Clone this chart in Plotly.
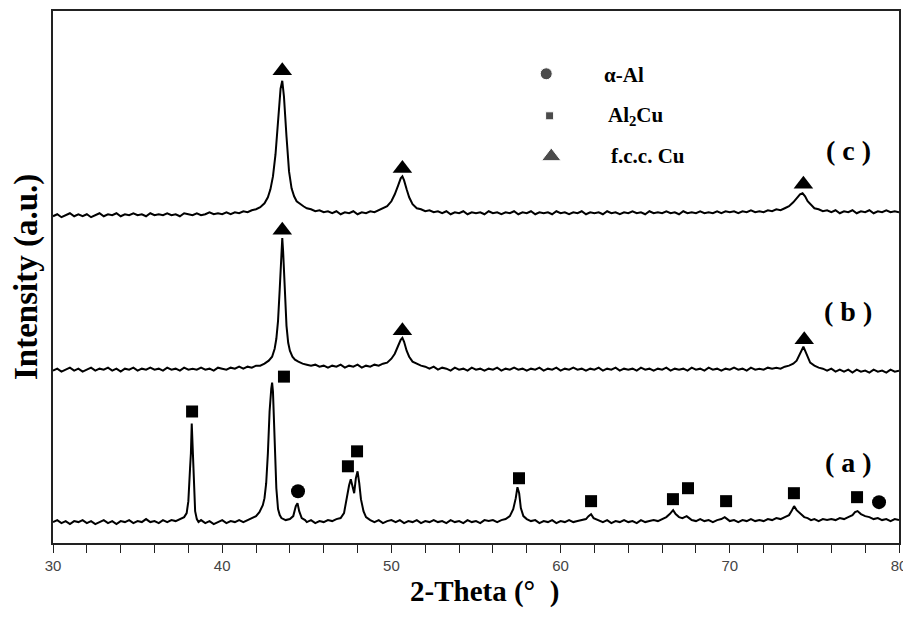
import plotly.graph_objects as go

# ---------------- data (2-theta in degrees, intensity in arbitrary units) ----------------
tt_a = [30.0, 30.25, 30.5, 30.75, 31.0, 31.25, 31.5, 31.75, 32.0, 32.25, 32.5, 32.75, 33.0, 33.25, 33.5, 33.75,
        34.0, 34.25, 34.5, 34.75, 35.0, 35.25, 35.5, 35.75, 36.0, 36.25, 36.5, 36.75, 37.0, 37.25, 37.5, 37.75,
        37.9, 38.0, 38.1, 38.15, 38.2, 38.25, 38.3, 38.4, 38.5, 38.6, 38.75, 39.0, 39.25, 39.5, 39.75, 40.0,
        40.25, 40.5, 40.75, 41.0, 41.25, 41.5, 41.75, 42.0, 42.2, 42.4, 42.5, 42.6, 42.7, 42.8, 42.9, 42.95,
        43.0, 43.1, 43.2, 43.3, 43.4, 43.5, 43.75, 44.0, 44.2, 44.35, 44.45, 44.55, 44.7, 44.9, 45.0, 45.25,
        45.5, 45.75, 46.0, 46.25, 46.5, 46.75, 47.0, 47.2, 47.35, 47.5, 47.6, 47.7, 47.8, 47.9, 48.0, 48.1,
        48.2, 48.35, 48.5, 48.75, 49.0, 49.25, 49.5, 49.75, 50.0, 50.25, 50.5, 50.75, 51.0, 51.25, 51.5, 51.75,
        52.0, 52.25, 52.5, 52.75, 53.0, 53.25, 53.5, 53.75, 54.0, 54.25, 54.5, 54.75, 55.0, 55.25, 55.5, 55.75,
        56.0, 56.25, 56.5, 56.75, 57.0, 57.2, 57.35, 57.45, 57.55, 57.65, 57.8, 58.0, 58.25, 58.5, 58.75, 59.0,
        59.25, 59.5, 59.75, 60.0, 60.25, 60.5, 60.75, 61.0, 61.25, 61.5, 61.65, 61.8, 61.95, 62.25, 62.5, 62.75,
        63.0, 63.25, 63.5, 63.75, 64.0, 64.25, 64.5, 64.75, 65.0, 65.25, 65.5, 65.75, 66.0, 66.25, 66.45, 66.65,
        66.8, 67.0, 67.2, 67.45, 67.6, 67.75, 68.0, 68.25, 68.5, 68.75, 69.0, 69.25, 69.5, 69.7, 69.85, 70.0,
        70.25, 70.5, 70.75, 71.0, 71.25, 71.5, 71.75, 72.0, 72.25, 72.5, 72.75, 73.0, 73.25, 73.5, 73.65, 73.8,
        73.95, 74.2, 74.4, 74.6, 74.8, 75.0, 75.25, 75.5, 75.75, 76.0, 76.25, 76.5, 76.75, 77.0, 77.25, 77.4,
        77.55, 77.75, 78.0, 78.25, 78.5, 78.75, 79.0, 79.25, 79.5, 79.75, 80.0]
int_a = [1, 3, 0, 2, -1, 2, 1, 3, 0, 2, -1, 1, 3, 0, 2, -1,
         2, 1, 3, 0, 2, 1, 4, 1, 2, 0, 3, 1, 3, 2, 4, 6,
         10, 22, 55, 70, 100, 72, 45, 12, 4, 1, 3, 0, 2, -1, 1, 3,
         0, 2, 1, 3, 1, 3, 5, 7, 11, 18, 25, 40, 70, 112, 135, 141,
         132, 90, 35, 14, 8, 5, 3, 4, 7, 17, 20, 12, 5, 3, 1, 3,
         0, 2, 1, 3, 2, 4, 5, 10, 25, 38, 44, 36, 30, 45, 52, 40,
         24, 12, 6, 3, 1, 3, 0, 2, 3, 1, 3, 0, 2, 1, 3, 0,
         2, 1, 3, 1, 2, 0, 3, 1, 2, 0, 3, 1, 2, 0, 3, 2,
         3, 1, 3, 4, 7, 14, 25, 36, 30, 15, 7, 4, 2, 3, 0, 2,
         1, 3, 0, 2, 1, 3, 1, 2, 3, 4, 7, 9, 5, 3, 1, 3,
         0, 2, 1, 3, 1, 2, 0, 3, 1, 2, 3, 2, 4, 6, 9, 13,
         9, 6, 5, 7, 5, 3, 2, 4, 2, 3, 1, 3, 4, 6, 4, 2,
         3, 1, 3, 2, 4, 2, 3, 2, 4, 3, 5, 4, 6, 8, 12, 17,
         13, 9, 6, 5, 3, 4, 2, 4, 3, 4, 3, 5, 4, 6, 8, 11,
         12, 9, 7, 6, 4, 5, 3, 4, 2, 4, 3]

tt_b = [30.0, 30.25, 30.5, 30.75, 31.0, 31.25, 31.5, 31.75, 32.0, 32.25, 32.5, 32.75, 33.0, 33.25, 33.5, 33.75,
        34.0, 34.25, 34.5, 34.75, 35.0, 35.25, 35.5, 35.75, 36.0, 36.25, 36.5, 36.75, 37.0, 37.25, 37.5, 37.75,
        38.0, 38.25, 38.5, 38.75, 39.0, 39.25, 39.5, 39.75, 40.0, 40.25, 40.5, 40.75, 41.0, 41.25, 41.5, 41.75,
        42.0, 42.25, 42.5, 42.75, 42.95, 43.1, 43.2, 43.3, 43.4, 43.5, 43.55, 43.6, 43.7, 43.8, 43.9, 44.0,
        44.15, 44.3, 44.5, 44.75, 45.0, 45.25, 45.5, 45.75, 46.0, 46.25, 46.5, 46.75, 47.0, 47.25, 47.5, 47.75,
        48.0, 48.25, 48.5, 48.75, 49.0, 49.25, 49.5, 49.75, 50.0, 50.2, 50.4, 50.55, 50.65, 50.75, 50.9, 51.05,
        51.25, 51.5, 51.75, 52.0, 52.25, 52.5, 52.75, 53.0, 53.25, 53.5, 53.75, 54.0, 54.25, 54.5, 54.75, 55.0,
        55.25, 55.5, 55.75, 56.0, 56.25, 56.5, 56.75, 57.0, 57.25, 57.5, 57.75, 58.0, 58.25, 58.5, 58.75, 59.0,
        59.25, 59.5, 59.75, 60.0, 60.25, 60.5, 60.75, 61.0, 61.25, 61.5, 61.75, 62.0, 62.25, 62.5, 62.75, 63.0,
        63.25, 63.5, 63.75, 64.0, 64.25, 64.5, 64.75, 65.0, 65.25, 65.5, 65.75, 66.0, 66.25, 66.5, 66.75, 67.0,
        67.25, 67.5, 67.75, 68.0, 68.25, 68.5, 68.75, 69.0, 69.25, 69.5, 69.75, 70.0, 70.25, 70.5, 70.75, 71.0,
        71.25, 71.5, 71.75, 72.0, 72.25, 72.5, 72.75, 73.0, 73.25, 73.5, 73.75, 73.95, 74.1, 74.25, 74.35, 74.45,
        74.6, 74.75, 75.0, 75.25, 75.5, 75.75, 76.0, 76.25, 76.5, 76.75, 77.0, 77.25, 77.5, 77.75, 78.0, 78.25,
        78.5, 78.75, 79.0, 79.25, 79.5, 79.75, 80.0]
int_b = [0, 2, -1, 1, 3, 0, 2, -1, 1, 3, 0, 2, 1, 3, 0, 2,
         -1, 2, 1, 3, 0, 2, 1, 3, 1, 2, 0, 3, 1, 2, 0, 3,
         1, 2, 1, 3, 1, 2, 0, 3, 2, 1, 3, 2, 4, 2, 4, 3,
         5, 5, 7, 10, 14, 22, 32, 50, 82, 125, 133, 120, 80, 45, 28, 20,
         14, 11, 9, 7, 6, 5, 6, 4, 5, 3, 5, 4, 6, 3, 5, 4,
         6, 3, 5, 4, 6, 5, 7, 8, 12, 17, 25, 31, 33, 29, 20, 14,
         9, 7, 5, 4, 2, 4, 1, 3, 2, 0, 3, 1, 2, 0, 3, 1,
         2, 0, 2, 1, 3, 0, 2, 1, 3, 1, 2, 0, 2, 1, 3, 0,
         2, 1, 3, 0, 2, 1, 3, 1, 2, 0, 2, 1, 3, 0, 2, 1,
         3, 0, 2, 1, 2, 0, 3, 1, 2, 0, 2, 1, 3, 0, 2, 1,
         2, 0, 3, 1, 2, 0, 3, 1, 2, 0, 2, 1, 3, 1, 2, 0,
         3, 1, 2, 1, 3, 2, 3, 2, 4, 5, 7, 10, 15, 21, 24, 20,
         13, 8, 5, 3, 2, 0, 2, -1, 1, -1, 1, -2, 1, -1, 0, -2,
         1, -1, 0, -2, 1, -1, 0]

tt_c = [30.0, 30.25, 30.5, 30.75, 31.0, 31.25, 31.5, 31.75, 32.0, 32.25, 32.5, 32.75, 33.0, 33.25, 33.5, 33.75,
        34.0, 34.25, 34.5, 34.75, 35.0, 35.25, 35.5, 35.75, 36.0, 36.25, 36.5, 36.75, 37.0, 37.25, 37.5, 37.75,
        38.0, 38.25, 38.5, 38.75, 39.0, 39.25, 39.5, 39.75, 40.0, 40.25, 40.5, 40.75, 41.0, 41.25, 41.5, 41.75,
        42.0, 42.25, 42.5, 42.7, 42.85, 43.0, 43.15, 43.3, 43.45, 43.55, 43.65, 43.8, 43.95, 44.1, 44.25, 44.4,
        44.6, 44.8, 45.0, 45.25, 45.5, 45.75, 46.0, 46.25, 46.5, 46.75, 47.0, 47.25, 47.5, 47.75, 48.0, 48.25,
        48.5, 48.75, 49.0, 49.25, 49.5, 49.75, 50.0, 50.2, 50.4, 50.55, 50.65, 50.75, 50.9, 51.05, 51.25, 51.5,
        51.75, 52.0, 52.25, 52.5, 52.75, 53.0, 53.25, 53.5, 53.75, 54.0, 54.25, 54.5, 54.75, 55.0, 55.25, 55.5,
        55.75, 56.0, 56.25, 56.5, 56.75, 57.0, 57.25, 57.5, 57.75, 58.0, 58.25, 58.5, 58.75, 59.0, 59.25, 59.5,
        59.75, 60.0, 60.25, 60.5, 60.75, 61.0, 61.25, 61.5, 61.75, 62.0, 62.25, 62.5, 62.75, 63.0, 63.25, 63.5,
        63.75, 64.0, 64.25, 64.5, 64.75, 65.0, 65.25, 65.5, 65.75, 66.0, 66.25, 66.5, 66.75, 67.0, 67.25, 67.5,
        67.75, 68.0, 68.25, 68.5, 68.75, 69.0, 69.25, 69.5, 69.75, 70.0, 70.25, 70.5, 70.75, 71.0, 71.25, 71.5,
        71.75, 72.0, 72.25, 72.5, 72.75, 73.0, 73.25, 73.5, 73.75, 73.95, 74.15, 74.3, 74.45, 74.6, 74.8, 75.0,
        75.25, 75.5, 75.75, 76.0, 76.25, 76.5, 76.75, 77.0, 77.25, 77.5, 77.75, 78.0, 78.25, 78.5, 78.75, 79.0,
        79.25, 79.5, 79.75, 80.0]
int_c = [0, 2, -1, 1, 3, 0, 2, 0, 2, -1, 1, 3, 0, 2, 1, 3,
         0, 2, 1, 3, 1, 2, 0, 3, 1, 2, 1, 3, 1, 2, 0, 3,
         2, 1, 3, 1, 2, 4, 2, 3, 2, 4, 2, 4, 3, 5, 4, 6,
         7, 9, 13, 19, 27, 40, 62, 95, 128, 136, 120, 80, 45, 28, 20, 15,
         12, 10, 8, 7, 5, 6, 4, 5, 3, 5, 2, 4, 3, 5, 2, 4,
         3, 5, 4, 6, 8, 10, 15, 22, 31, 38, 40, 36, 27, 19, 12, 8,
         7, 5, 6, 4, 5, 3, 5, 2, 4, 3, 5, 2, 4, 3, 4, 2,
         5, 3, 4, 2, 4, 3, 5, 2, 4, 3, 5, 2, 4, 3, 4, 2,
         5, 3, 4, 2, 4, 3, 5, 2, 4, 3, 4, 2, 5, 3, 4, 2,
         4, 3, 5, 3, 4, 2, 5, 3, 4, 3, 5, 3, 4, 2, 5, 3,
         4, 3, 5, 3, 4, 3, 5, 3, 5, 4, 5, 3, 5, 4, 6, 4,
         5, 4, 6, 5, 7, 6, 8, 10, 14, 18, 22, 23, 20, 15, 11, 8,
         7, 5, 6, 4, 6, 3, 5, 4, 6, 3, 5, 4, 6, 3, 5, 4,
         6, 4, 5, 4]

# vertical stacking offsets of the three patterns
offset_a, offset_b, offset_c = 20, 173, 328

# phase markers (2-theta, marker height on the stacked intensity scale)
fcc_cu_c_tt = [43.55, 50.65, 74.35]
fcc_cu_c_h = [474, 376, 360]
fcc_cu_b_tt = [43.55, 50.65, 74.4]
fcc_cu_b_h = [314, 213, 204]
al2cu_tt = [38.22, 43.65, 47.43, 47.97, 57.54, 61.8, 66.64, 67.53, 69.78, 73.79, 77.52]
al2cu_h = [132, 167, 77, 92, 65, 42, 44, 55, 42, 50, 46]
alpha_al_tt = [44.48, 78.82]
alpha_al_h = [52, 41]

pattern_labels = ["( a )", "( b )", "( c )"]
legend_names = ["α-Al", "Al<sub>2</sub>Cu", "f.c.c. Cu"]
x_ticks = [30, 40, 50, 60, 70, 80]

# ---------------- figure ----------------
fig = go.Figure()

line_style = dict(color="black", width=2)
for tt, inten, off in [(tt_a, int_a, offset_a), (tt_b, int_b, offset_b), (tt_c, int_c, offset_c)]:
    fig.add_trace(go.Scatter(x=tt, y=[v + off for v in inten], mode="lines",
                             line=line_style, showlegend=False, hoverinfo="skip"))

fig.add_trace(go.Scatter(x=fcc_cu_c_tt + fcc_cu_b_tt, y=fcc_cu_c_h + fcc_cu_b_h, mode="markers",
                         marker=dict(symbol="triangle-up", size=17, color="black"),
                         showlegend=False, hoverinfo="skip"))
fig.add_trace(go.Scatter(x=al2cu_tt, y=al2cu_h, mode="markers",
                         marker=dict(symbol="square", size=12, color="black"),
                         showlegend=False, hoverinfo="skip"))
fig.add_trace(go.Scatter(x=alpha_al_tt, y=alpha_al_h, mode="markers",
                         marker=dict(symbol="circle", size=14, color="black"),
                         showlegend=False, hoverinfo="skip"))

# legend symbols on an overlay axis in fractional coordinates
leg_x = [0.583, 0.587, 0.589]
leg_y = [0.882, 0.803, 0.7266]
leg_sym = ["circle", "square", "triangle-up"]
leg_size = [12, 8, 17]
fig.add_trace(go.Scatter(x=leg_x, y=leg_y, mode="markers", xaxis="x2", yaxis="y2",
                         marker=dict(symbol=leg_sym, size=leg_size, color="black"),
                         showlegend=False, hoverinfo="skip"))

serif = "Liberation Serif, Times New Roman, serif"
annotations = []
leg_text_x = [0.649, 0.654, 0.657]
leg_text_y = [0.880, 0.803, 0.727]
for name, lx, ly in zip(legend_names, leg_text_x, leg_text_y):
    annotations.append(dict(text="<b>" + name + "</b>", x=lx, y=ly, xref="paper", yref="paper",
                            xanchor="left", yanchor="middle", showarrow=False,
                            font=dict(family=serif, size=21, color="black")))
for lab, ly in zip(pattern_labels, [0.1517, 0.4345, 0.738]):
    annotations.append(dict(text="<b>" + lab + "</b>", x=0.94, y=ly, xref="paper", yref="paper",
                            xanchor="center", yanchor="middle", showarrow=False,
                            font=dict(family=serif, size=28, color="black")))
annotations.append(dict(text="<b>2-Theta (°  )</b>", x=0.5106, y=-0.091, xref="paper", yref="paper",
                        xanchor="center", yanchor="middle", showarrow=False,
                        font=dict(family=serif, size=29, color="black")))
annotations.append(dict(text="<b>Intensity (a.u.)</b>", x=-0.0319, y=0.5, xref="paper", yref="paper",
                        xanchor="center", yanchor="middle", showarrow=False, textangle=-90,
                        font=dict(family=serif, size=33, color="black")))

# the page body adds an 8px offset, so the figure is sized to fill the remaining window
fig.update_layout(
    width=903, height=609,
    margin=dict(l=45, r=12, t=1, b=74),
    paper_bgcolor="white", plot_bgcolor="white",
    showlegend=False,
    annotations=annotations,
    xaxis=dict(range=[30, 80], tickvals=x_ticks, ticks="outside", ticklen=8, tickwidth=1.2,
               tickcolor="#222", showline=True, linecolor="#222", linewidth=1.8, mirror=True,
               showgrid=False, zeroline=False,
               tickfont=dict(family="Liberation Sans, Arial, sans-serif", size=15, color="#444"),
               minor=dict(dtick=2, ticks="outside", ticklen=8, tickwidth=1.2, tickcolor="#222")),
    yaxis=dict(range=[0, 534], showticklabels=False, ticks="", showline=True, linecolor="#222",
               linewidth=1.8, mirror=True, showgrid=False, zeroline=False),
    xaxis2=dict(overlaying="x", range=[0, 1], visible=False),
    yaxis2=dict(overlaying="y", range=[0, 1], visible=False),
)

fig.write_html("out.html")
